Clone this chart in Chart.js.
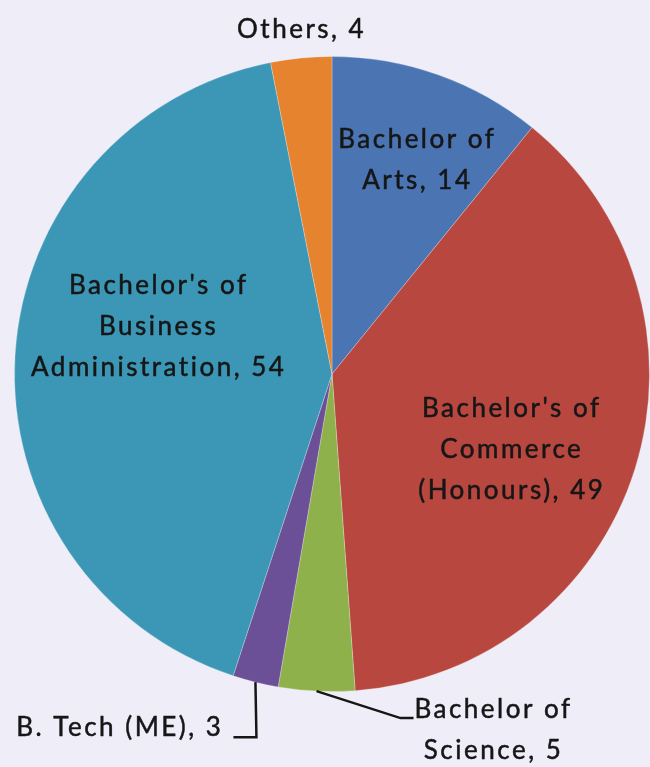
<!DOCTYPE html>
<html>
<head>
<meta charset="utf-8">
<script src="https://cdn.jsdelivr.net/npm/chart.js@4.4.1/dist/chart.umd.min.js"></script>
<style>
  html, body { margin: 0; padding: 0; background: #efeef8; }
  #chart { display: block; }
</style>
</head>
<body>
<canvas id="chart" width="650" height="767"></canvas>
<script>
// degree types, clockwise from 12 o'clock
const degreeNames = [
  'Bachelor of Arts',
  "Bachelor's of Commerce (Honours)",
  'Bachelor of Science',
  'B. Tech (ME)',
  "Bachelor's of Business Administration",
  'Others'
];
const studentCounts = [14, 49, 5, 3, 54, 4];
const labelLines = [
  ['Bachelor of', 'Arts, 14'],
  ["Bachelor's of", 'Commerce', '(Honours), 49'],
  ['Bachelor of', 'Science, 5'],
  ['B. Tech (ME), 3'],
  ["Bachelor's of", 'Business', 'Administration, 54'],
  ['Others, 4']
];
const sliceColors = ['#4a74b2', '#b8483f', '#8fb14c', '#6c5097', '#3b97b5', '#e6832f'];

// where each label sits: fraction of radius along the slice middle, then a nudge
// leader: two segments from the pie edge (only for outside labels)
const labelPlace = [
  { frac: 0.70, dx: 11, dy: -4, align: 'center' },
  { frac: 0.60, dx: -2, dy: 19, align: 'center' },
  { frac: 1.00, leader: [[84, 27], [13, 0]], dx: 80, dy: -9, align: 'center' },
  { frac: 1.00, leader: [[1, 55], [-23, 0]], dx: -10, dy: -10, align: 'right' },
  { frac: 0.55, dx: 1, dy: -37, align: 'center' },
  { frac: 1.08, dx: 3, dy: -3, align: 'center' }
];
const lineGap = 41;

const sliceLabels = {
  id: 'sliceLabels',
  afterDatasetsDraw(chart) {
    const ctx = chart.ctx;
    const meta = chart.getDatasetMeta(0);
    ctx.save();
    ctx.font = '26px Lato';
    ctx.letterSpacing = '2.5px';
    ctx.fillStyle = '#161616';
    ctx.strokeStyle = '#161616';
    ctx.textBaseline = 'middle';
    meta.data.forEach((arc, i) => {
      const p = arc.getProps(['x', 'y', 'startAngle', 'endAngle', 'outerRadius'], true);
      const mid = (p.startAngle + p.endAngle) / 2;
      const place = labelPlace[i];
      let ax = p.x + Math.cos(mid) * p.outerRadius * place.frac;
      let ay = p.y + Math.sin(mid) * p.outerRadius * place.frac;
      if (place.leader) {
        ctx.lineWidth = 2.5;
        ctx.beginPath();
        ctx.moveTo(ax, ay);
        place.leader.forEach(([lx, ly]) => {
          ax += lx;
          ay += ly;
          ctx.lineTo(ax, ay);
        });
        ctx.stroke();
      }
      const lines = labelLines[i];
      const tx = ax + place.dx;
      const ty0 = ay + place.dy - (place.leader ? 0 : (lines.length - 1) * lineGap / 2);
      ctx.textAlign = place.align;
      ctx.lineWidth = 0.5;
      lines.forEach((txt, k) => {
        ctx.fillText(txt, tx, ty0 + k * lineGap);
        ctx.strokeText(txt, tx, ty0 + k * lineGap); // a bit heavier, like the original
      });
    });
    ctx.restore();
  }
};

new Chart(document.getElementById('chart'), {
  type: 'pie',
  data: {
    labels: degreeNames,
    datasets: [{
      data: studentCounts,
      backgroundColor: sliceColors,
      borderColor: 'rgba(255,255,255,0.25)',
      borderWidth: 1
    }]
  },
  options: {
    responsive: false,
    animation: false,
    layout: { padding: { top: 55, bottom: 74, left: 14, right: 0 } },
    plugins: {
      legend: { display: false },
      tooltip: { enabled: false }
    }
  },
  plugins: [sliceLabels]
});
</script>
</body>
</html>
